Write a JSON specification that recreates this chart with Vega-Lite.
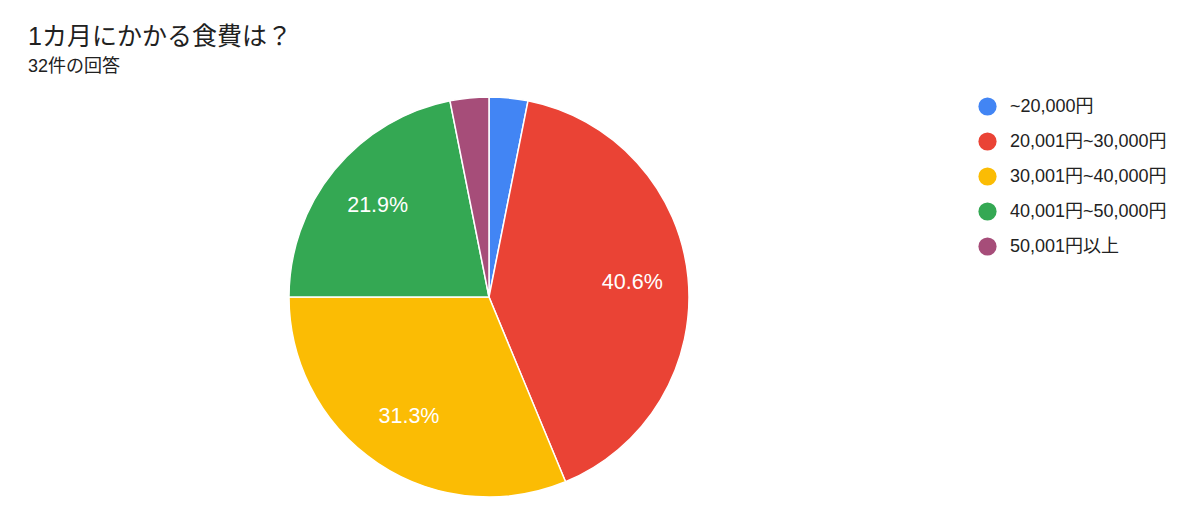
{
  "$schema": "https://vega.github.io/schema/vega-lite/v6.json",
  "autosize": "none",
  "width": 400,
  "height": 400,
  "padding": {"left": 289, "top": 97, "right": 511, "bottom": 26},
  "background": "white",
  "title": {
    "text": "1カ月にかかる食費は？",
    "subtitle": "32件の回答",
    "anchor": "start",
    "frame": "group",
    "dx": -261,
    "offset": 18,
    "font": "Arial, Noto Sans CJK JP",
    "fontSize": 25,
    "fontWeight": "normal",
    "color": "#212121",
    "subtitleFont": "Arial, Noto Sans CJK JP",
    "subtitleFontSize": 18,
    "subtitleColor": "#212121",
    "subtitlePadding": 8
  },
  "data": {
    "values": [
      {"category": "~20,000円", "count": 1, "order": 1, "label": ""},
      {"category": "20,001円~30,000円", "count": 13, "order": 2, "label": "40.6%"},
      {"category": "30,001円~40,000円", "count": 10, "order": 3, "label": "31.3%"},
      {"category": "40,001円~50,000円", "count": 7, "order": 4, "label": "21.9%"},
      {"category": "50,001円以上", "count": 1, "order": 5, "label": ""}
    ]
  },
  "encoding": {
    "theta": {"field": "count", "type": "quantitative", "stack": true},
    "order": {"field": "order", "type": "quantitative"},
    "color": {
      "field": "category",
      "type": "nominal",
      "sort": ["~20,000円", "20,001円~30,000円", "30,001円~40,000円", "40,001円~50,000円", "50,001円以上"],
      "scale": {
        "domain": ["~20,000円", "20,001円~30,000円", "30,001円~40,000円", "40,001円~50,000円", "50,001円以上"],
        "range": ["#4285F4", "#EA4335", "#FBBC04", "#34A853", "#A64D79"]
      },
      "legend": {
        "title": null,
        "orient": "none",
        "legendX": 689,
        "legendY": 0,
        "symbolType": "circle",
        "symbolSize": 330,
        "symbolStrokeWidth": 0,
        "labelFont": "Arial, Noto Sans CJK JP",
        "labelFontSize": 18,
        "labelColor": "#222222",
        "labelOffset": 13,
        "rowPadding": 16,
        "labelLimit": 300
      }
    }
  },
  "layer": [
    {
      "mark": {"type": "arc", "outerRadius": 200, "stroke": "white", "strokeWidth": 1.5}
    },
    {
      "mark": {"type": "text", "radius": 144, "fontSize": 21.5, "font": "Arial", "fill": "white"},
      "encoding": {
        "text": {"field": "label"},
        "color": {"value": "white"}
      }
    }
  ]
}
